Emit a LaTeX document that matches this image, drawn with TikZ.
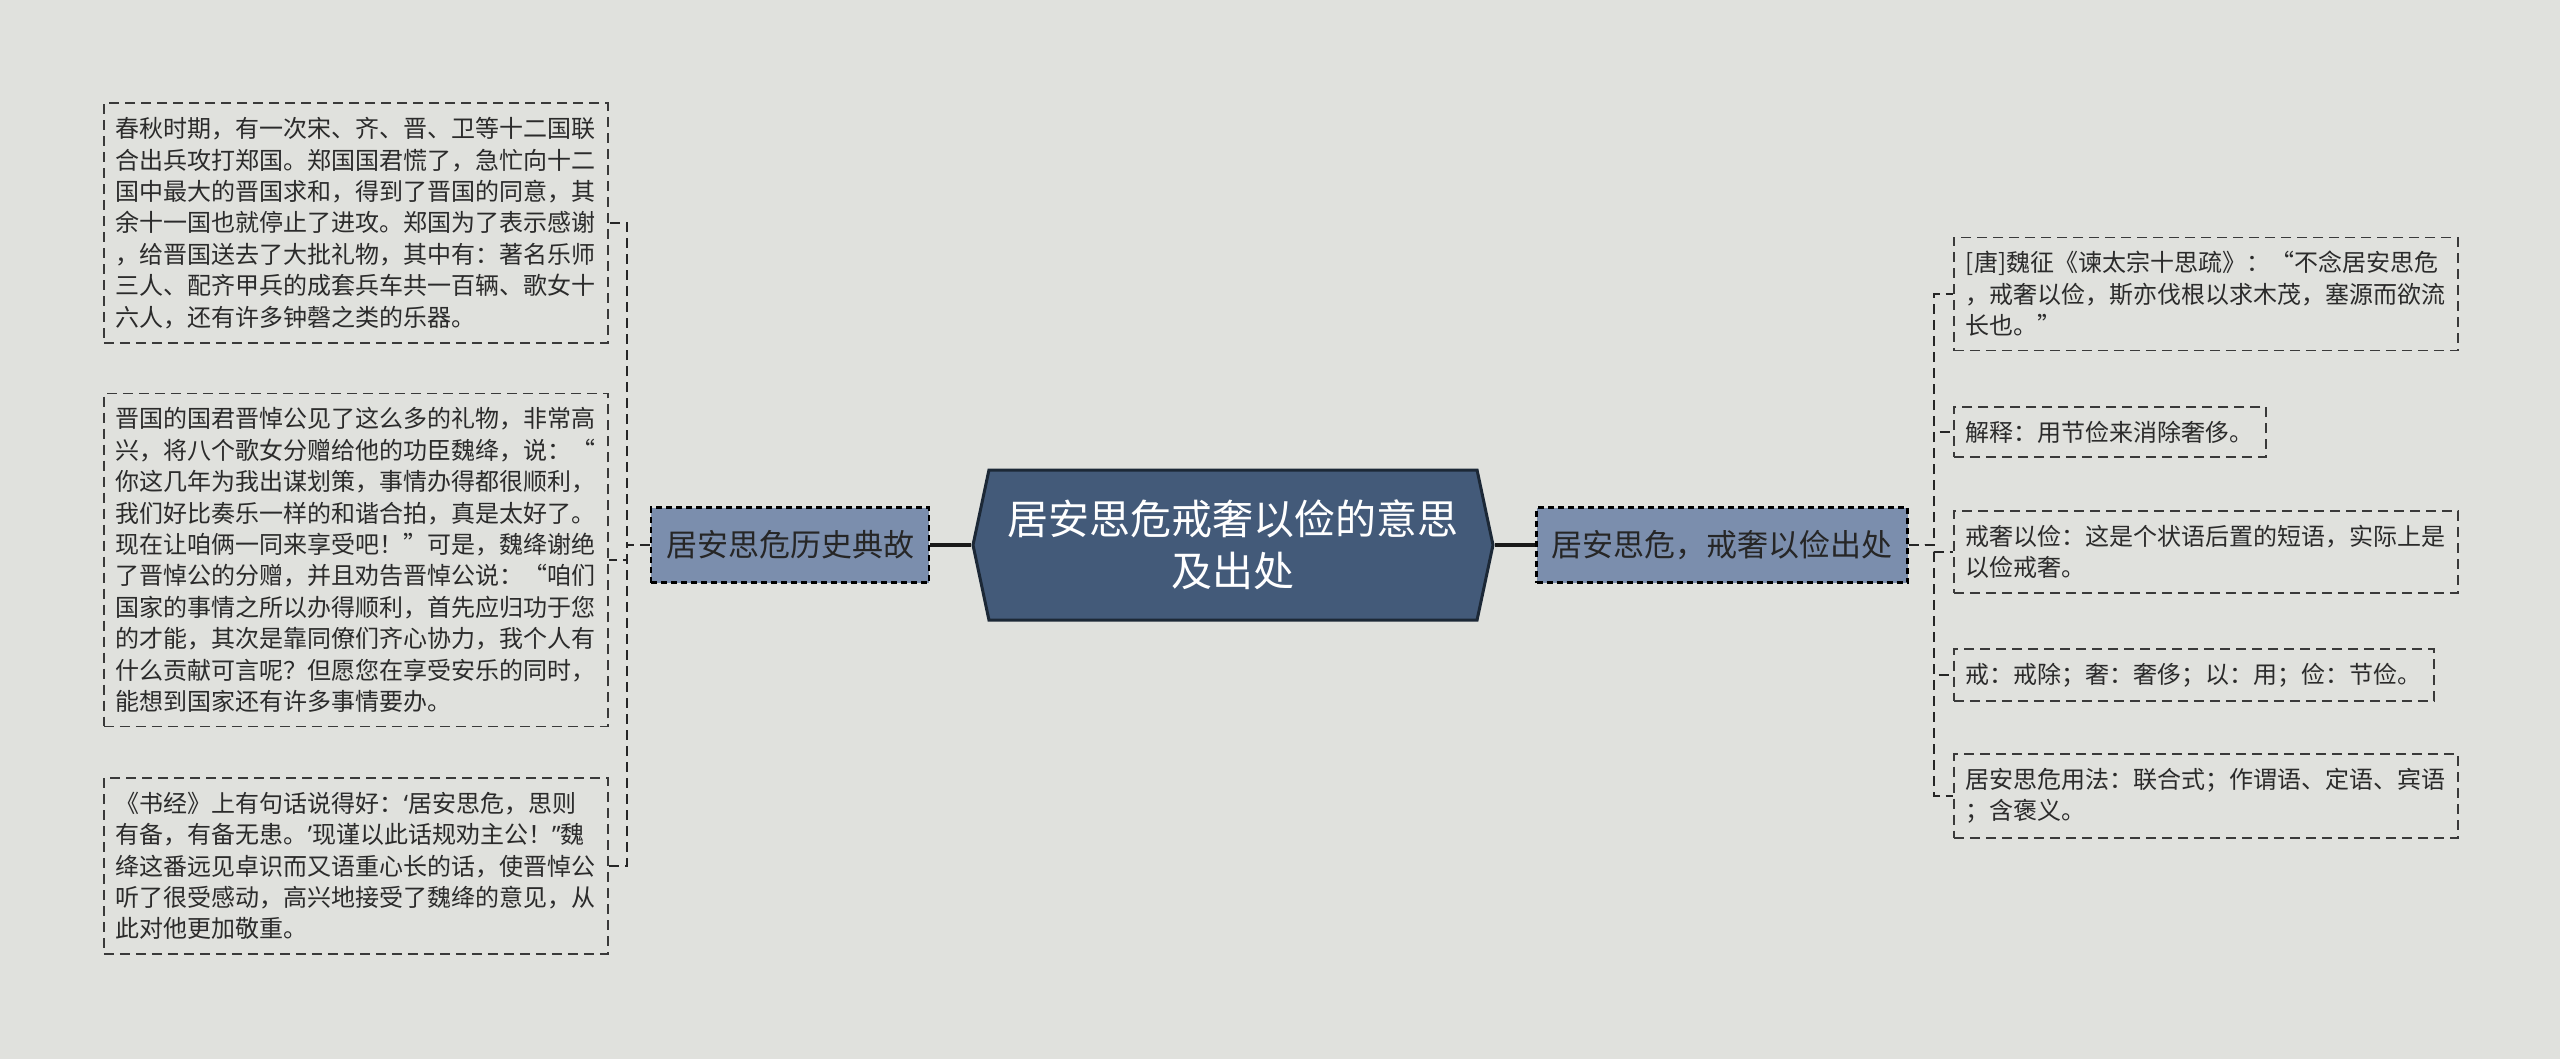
\documentclass[tikz,border=0pt]{standalone}
\usepackage{fontspec}
\setmainfont{Noto Sans CJK SC}
\newfontfamily\quotefont{Noto Sans}
\newcommand\pq[1]{{\quotefont #1}}
\usetikzlibrary{shapes.symbols}

\definecolor{bgcol}{HTML}{E0E1DD}
\definecolor{rootfill}{HTML}{435A79}
\definecolor{rootline}{HTML}{1C2836}
\definecolor{topicfill}{HTML}{7B8EAD}
\definecolor{leafline}{HTML}{3A3A3A}
\definecolor{leaftext}{HTML}{2B2B2B}

\begin{document}
\begin{tikzpicture}[x=0.5pt, y=-0.5pt,
  rootnode/.style = {shape=signal, signal to=east and west, signal pointer angle=156,
    draw=rootline, line width=1.5pt, fill=rootfill, text=white, align=center,
    font=\fontsize{20.5}{26}\selectfont, minimum width=260pt, minimum height=75pt, inner sep=0pt},
  topicnode/.style = {draw=black, dash pattern=on 3pt off 2pt, line width=1.2pt, fill=topicfill,
    text=black!85, font=\fontsize{15.5}{18}\selectfont, inner xsep=7.5pt, minimum height=37.5pt},
  leafnode/.style = {draw=leafline, dash pattern=on 5pt off 3pt, line width=0.9pt, text=leaftext,
    align=left, font=\fontsize{12}{15.7}\selectfont, inner xsep=6pt, inner ysep=7pt, anchor=west},
  link/.style = {draw=black!90, line width=2pt},
  bracelink/.style = {draw=black!85, dash pattern=on 5pt off 3pt, line width=1pt}]

  \fill[bgcol] (0,0) rectangle (2560,1059);

  % centre and the two branches
  \node[rootnode] (root) at (1233,545) {居安思危戒奢以俭的意思\\及出处};
  \node[topicnode] (story) at (790,545) {居安思危历史典故};
  \node[topicnode] (origin) at (1722,545) {居安思危，戒奢以俭出处};

  % left leaves
  \node[leafnode] (s1) at (103,223) {春秋时期，有一次宋、齐、晋、卫等十二国联\\合出兵攻打郑国。郑国国君慌了，急忙向十二\\国中最大的晋国求和，得到了晋国的同意，其\\余十一国也就停止了进攻。郑国为了表示感谢\\，给晋国送去了大批礼物，其中有：著名乐师\\三人、配齐甲兵的成套兵车共一百辆、歌女十\\六人，还有许多钟磬之类的乐器。};
  \node[leafnode] (s2) at (103,560) {晋国的国君晋悼公见了这么多的礼物，非常高\\兴，将八个歌女分赠给他的功臣魏绛，说：“\\你这几年为我出谋划策，事情办得都很顺利，\\我们好比奏乐一样的和谐合拍，真是太好了。\\现在让咱俩一同来享受吧！”可是，魏绛谢绝\\了晋悼公的分赠，并且劝告晋悼公说：“咱们\\国家的事情之所以办得顺利，首先应归功于您\\的才能，其次是靠同僚们齐心协力，我个人有\\什么贡献可言呢？但愿您在享受安乐的同时，\\能想到国家还有许多事情要办。};
  \node[leafnode] (s3) at (103,866) {《书经》上有句话说得好：\pq{‘}居安思危，思则\\有备，有备无患。\pq{’}现谨以此话规劝主公！\pq{”}魏\\绛这番远见卓识而又语重心长的话，使晋悼公\\听了很受感动，高兴地接受了魏绛的意见，从\\此对他更加敬重。};

  % right leaves
  \node[leafnode] (r1) at (1953,294) {[唐]魏征《谏太宗十思疏》：“不念居安思危\\，戒奢以俭，斯亦伐根以求木茂，塞源而欲流\\长也。”};
  \node[leafnode] (r2) at (1953,432) {解释：用节俭来消除奢侈。};
  \node[leafnode] (r3) at (1953,552) {戒奢以俭：这是个状语后置的短语，实际上是\\以俭戒奢。};
  \node[leafnode] (r4) at (1953,675) {戒：戒除；奢：奢侈；以：用；俭：节俭。};
  \node[leafnode] (r5) at (1953,796) {居安思危用法：联合式；作谓语、定语、宾语\\；含褒义。};

  \draw[link] (root.west) -- (story.east);
  \draw[link] (root.east) -- (origin.west);

  \foreach \leaf in {s1,s2,s3}
    \draw[bracelink] (story.west) -- ++(-23,0) |- (\leaf.east);
  \foreach \leaf in {r1,r2,r3,r4,r5}
    \draw[bracelink] (origin.east) -- ++(25,0) |- (\leaf.west);
\end{tikzpicture}
\end{document}
